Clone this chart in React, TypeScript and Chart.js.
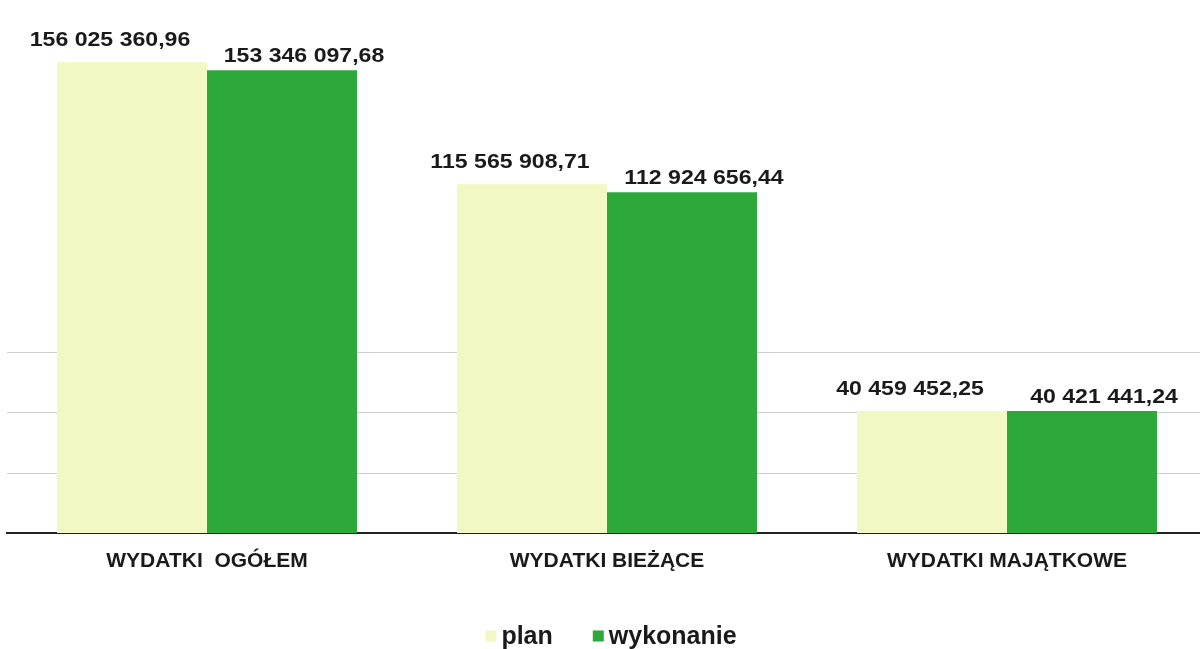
import React, { useEffect, useRef } from "react";
import { Chart, registerables } from "chart.js";

Chart.register(...registerables);

const categories = ["WYDATKI  OGÓŁEM", "WYDATKI BIEŻĄCE", "WYDATKI MAJĄTKOWE"];
const seriesNames = ["plan", "wykonanie"];
const planValues = [156025360.96, 115565908.71, 40459452.25];
const wykonanieValues = [153346097.68, 112924656.44, 40421441.24];
const gridValues = [20000000, 40000000, 60000000];

const PLAN_COLOR = "#F1F8C3";
const WYK_COLOR = "#2DA83B";
const FONT = "'Liberation Sans', Arial, sans-serif";

function fmt(v: number): string {
  const [i, d] = v.toFixed(2).split(".");
  return i.replace(/\B(?=(\d{3})+(?!\d))/g, " ") + "," + d;
}

const gridPlugin = {
  id: "faintGrid",
  beforeDatasetsDraw(chart: any) {
    const ctx = chart.ctx;
    const y = chart.scales.y;
    const { left, right } = chart.chartArea;
    ctx.save();
    ctx.strokeStyle = "#cfcfcf";
    ctx.lineWidth = 1;
    gridValues.forEach((v) => {
      const py = Math.round(y.getPixelForValue(v)) + 0.5;
      ctx.beginPath();
      ctx.moveTo(left, py);
      ctx.lineTo(right, py);
      ctx.stroke();
    });
    ctx.restore();
  },
};

const labelPlugin = {
  id: "valueLabels",
  afterDatasetsDraw(chart: any) {
    const ctx = chart.ctx;
    chart.data.datasets.forEach((ds: any, di: number) => {
      const meta = chart.getDatasetMeta(di);
      const dx = di === 0 ? -22 : 22;
      const gap = di === 0 ? 16 : 8;
      meta.data.forEach((bar: any, i: number) => {
        ctx.save();
        ctx.font = `bold 21px ${FONT}`;
        ctx.fillStyle = "#1a1a1a";
        ctx.textAlign = "center";
        ctx.textBaseline = "alphabetic";
        ctx.translate(bar.x + dx, bar.y - gap);
        ctx.scale(1.1, 1);
        ctx.fillText(fmt(ds.data[i]), 0, 0);
        ctx.restore();
      });
    });
  },
};

const legendPlugin = {
  id: "customLegend",
  afterDraw(chart: any) {
    const ctx = chart.ctx;
    ctx.save();
    ctx.font = `bold 25px ${FONT}`;
    ctx.textBaseline = "middle";
    ctx.textAlign = "left";
    const box = 11;
    const gap = 5;
    const spacing = 40;
    const items = chart.data.datasets.map((ds: any) => ({
      text: ds.label,
      color: ds.backgroundColor,
      w: box + gap + ctx.measureText(ds.label).width,
    }));
    const total = items.reduce((s: number, it: any) => s + it.w, 0) + spacing * (items.length - 1);
    const cx = (chart.chartArea.left + chart.chartArea.right) / 2 + 4;
    let x = cx - total / 2;
    const y = 636;
    items.forEach((it: any) => {
      ctx.fillStyle = it.color;
      ctx.fillRect(x, y - box / 2, box, box);
      ctx.fillStyle = "#1a1a1a";
      ctx.fillText(it.text, x + box + gap, y + 1);
      x += it.w + spacing;
    });
    ctx.restore();
  },
};

export default function App() {
  const ref = useRef<HTMLCanvasElement>(null);

  useEffect(() => {
    document.body.style.margin = "0";
    document.body.style.overflow = "hidden";
    const chart = new Chart(ref.current!, {
      type: "bar",
      data: {
        labels: categories,
        datasets: [
          {
            label: seriesNames[0],
            data: planValues,
            backgroundColor: PLAN_COLOR,
            borderWidth: 0,
            categoryPercentage: 0.75,
            barPercentage: 1,
          },
          {
            label: seriesNames[1],
            data: wykonanieValues,
            backgroundColor: WYK_COLOR,
            borderWidth: 0,
            categoryPercentage: 0.75,
            barPercentage: 1,
          },
        ],
      },
      options: {
        responsive: false,
        animation: false,
        layout: { padding: { left: 7, right: 0, top: 20, bottom: 76 } },
        plugins: { legend: { display: false }, tooltip: { enabled: false } },
        scales: {
          x: {
            grid: { display: false, drawTicks: false },
            border: { display: true, color: "#222", width: 2 },
            ticks: {
              color: "#1a1a1a",
              font: { family: FONT, size: 21, weight: "bold" },
              padding: 16,
              maxRotation: 0,
            },
            afterFit: (scale: any) => {
              scale.height = 40;
            },
          },
          y: {
            display: false,
            min: 0,
            max: 170000000,
            afterFit: (scale: any) => {
              scale.width = 0;
            },
          },
        },
      },
      plugins: [gridPlugin, labelPlugin, legendPlugin],
    });
    return () => chart.destroy();
  }, []);

  return (
    <div style={{ position: "absolute", left: 0, top: 0, width: 1207, height: 649, overflow: "hidden", background: "#fff" }}>
      <canvas ref={ref} width={1207} height={649} style={{ width: 1207, height: 649 }} />
    </div>
  );
}
